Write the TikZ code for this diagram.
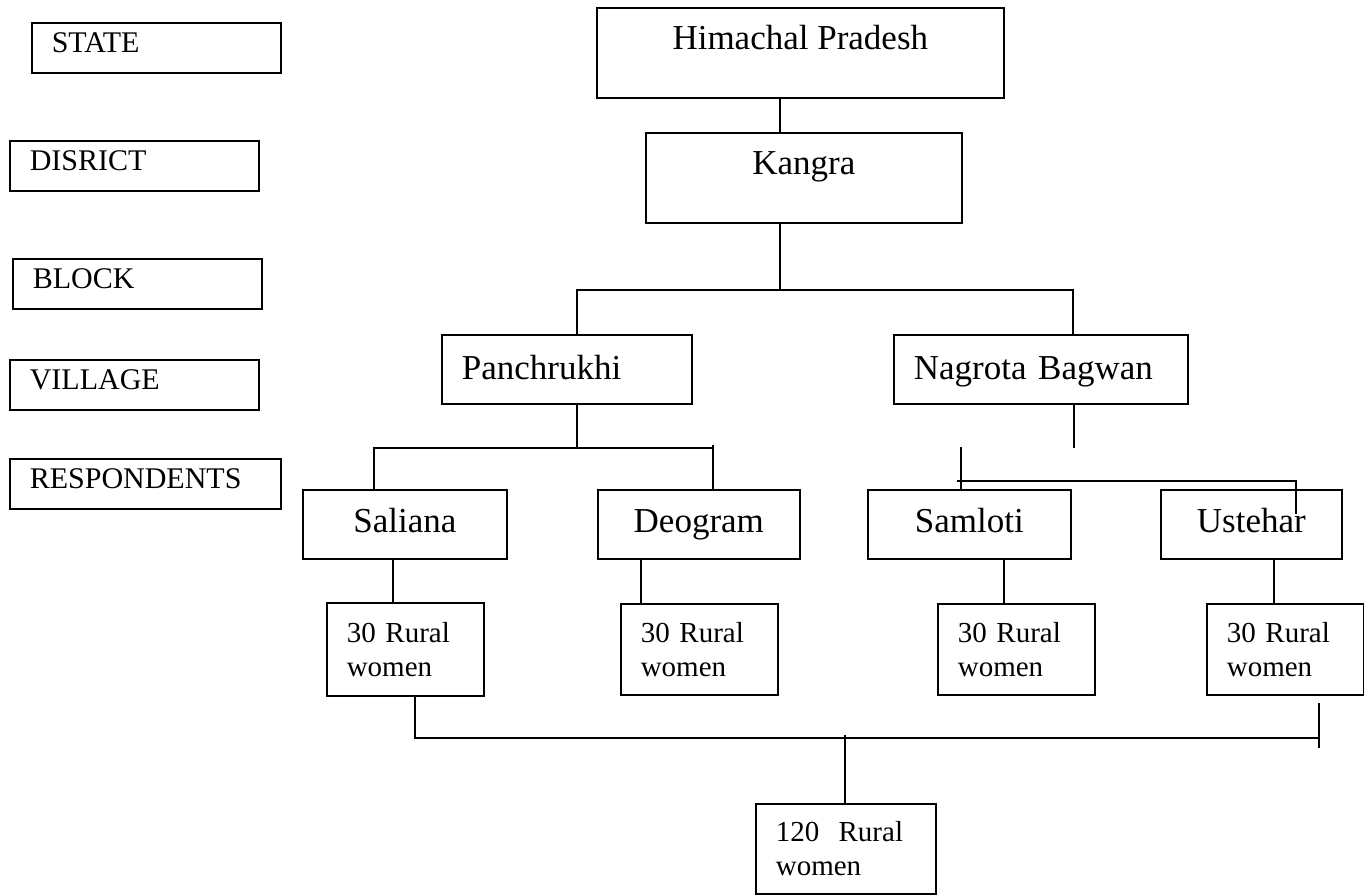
\documentclass[tikz,border=0pt]{standalone}
\usepackage{fontspec}
\setmainfont{Liberation Serif}
\tikzset{
  levelbox/.style={draw, line width=1.6pt, anchor=north west, inner xsep=20pt, inner ysep=0pt,
    align=left, minimum height=50pt, text height=20pt, text depth=11pt,
    font=\fontsize{30}{34}\selectfont},
  topbox/.style={draw, line width=1.6pt, anchor=north west, inner sep=0pt,
    minimum height=90pt, text height=23pt, text depth=29pt,
    font=\fontsize{35}{40}\selectfont},
  blockbox/.style={draw, line width=1.6pt, anchor=north west, inner xsep=20pt, inner ysep=0pt,
    align=left, minimum height=69pt, text height=23pt, text depth=3pt,
    font=\fontsize{35}{40}\selectfont},
  villagebox/.style={draw, line width=1.6pt, anchor=north west, inner sep=0pt,
    minimum height=69pt, text height=23pt, text depth=6pt,
    font=\fontsize{35}{40}\selectfont},
  countbox/.style={draw, line width=1.6pt, anchor=north west, inner xsep=20pt, inner ysep=0pt,
    align=left, font=\fontsize{29}{34}\selectfont},
  link/.style={line width=1.6pt}
}
\begin{document}
\begin{tikzpicture}[x=1pt,y=-1pt]
    \useasboundingbox (0,0) rectangle (1364,894);

    % Level labels
    \node[levelbox, minimum width=249pt, text width=209pt] (state) at (31,22) {STATE};
    \node[levelbox, minimum width=249pt, text width=209pt] (district) at (9,140) {DISRICT};
    \node[levelbox, minimum width=249pt, text width=209pt] (block) at (12,258) {BLOCK};
    \node[levelbox, minimum width=249pt, text width=209pt] (village) at (9,359) {VILLAGE};
    \node[levelbox, minimum width=271pt, text width=231pt] (respondents) at (9,458) {RESPONDENTS};

    % State and district
    \node[topbox, minimum width=407pt] (hp) at (596,7) {Himachal Pradesh};
    \node[topbox, minimum width=316pt] (kangra) at (645,132) {Kangra};

    % Blocks
    \node[blockbox, minimum width=250pt, text width=210pt] (panch) at (441,334) {Panchrukhi};
    \node[blockbox, minimum width=294pt, text width=254pt] (nagrota) at (893,334) {Nagrota Bagwan};

    % Villages
    \node[villagebox, minimum width=204pt] (saliana) at (302,489) {Saliana};
    \node[villagebox, minimum width=202pt] (deogram) at (597,489) {Deogram};
    \node[villagebox, minimum width=203pt] (samloti) at (867,489) {Samloti};
    \node[villagebox, minimum width=181pt] (ustehar) at (1160,489) {Ustehar};

    % Respondents
    \node[countbox, minimum width=157pt, minimum height=93pt, text width=117pt] (resp1) at (326,602) {30 Rural\\women};
    \node[countbox, minimum width=157pt, minimum height=91pt, text width=117pt] (resp2) at (620,603) {30 Rural\\women};
    \node[countbox, minimum width=157pt, minimum height=91pt, text width=117pt] (resp3) at (937,603) {30 Rural\\women};
    \node[countbox, minimum width=157pt, minimum height=91pt, text width=117pt] (resp4) at (1206,603) {30 Rural\\women};
    \node[countbox, minimum width=180pt, minimum height=90pt, text width=140pt] (total) at (755,803) {120~~Rural\\women};

    % Junction points
    \coordinate (trunk) at (780,290);
    \coordinate (splitL) at (577,290);
    \coordinate (splitR) at (1073,290);
    \coordinate (pforkL) at (374,448);
    \coordinate (pforkR) at (713,448);
    \coordinate (pstem) at (577,448);
    \coordinate (nstub) at (1074,448);
    \coordinate (nforkL) at (961,447);
    \coordinate (nbar) at (957,481);
    \coordinate (nforkR) at (1296,481);
    \coordinate (nend) at (1296,514);
    \coordinate (mergeL) at (415,738);
    \coordinate (mergeC) at (845,738);
    \coordinate (mergeR) at (1319,738);

    % State to blocks
    \draw[link] (hp.south -| trunk) -- (kangra.north -| trunk);
    \draw[link] (kangra.south -| trunk) -- (trunk);
    \draw[link] (panch.north -| splitL) -- (splitL) -- (splitR) -- (nagrota.north -| splitR);

    % Panchrukhi to villages
    \draw[link] (panch.south -| pstem) -- (pstem);
    \draw[link] (saliana.north -| pforkL) -- (pforkL) -- (pforkR);
    \draw[link] (pforkR) ++(0,-3) -- (deogram.north -| pforkR);

    % Nagrota Bagwan to villages
    \draw[link] (nagrota.south -| nstub) -- (nstub);
    \draw[link] (nforkL) -- (samloti.north -| nforkL);
    \draw[link] (nbar) -- (nforkR) -- (nend);

    % Villages to respondents
    \foreach \v/\r/\x in {saliana/resp1/393, deogram/resp2/641, samloti/resp3/1004, ustehar/resp4/1274}
        \draw[link] (\x,0 |- \v.south) -- (\x,0 |- \r.north);

    % Respondents to total
    \draw[link] (resp1.south -| mergeL) -- (mergeL) -- (mergeR);
    \draw[link] (mergeR) ++(0,-35) -- ++(0,45);
    \draw[link] (mergeC) ++(0,-3) -- (total.north -| mergeC);
\end{tikzpicture}
\end{document}
